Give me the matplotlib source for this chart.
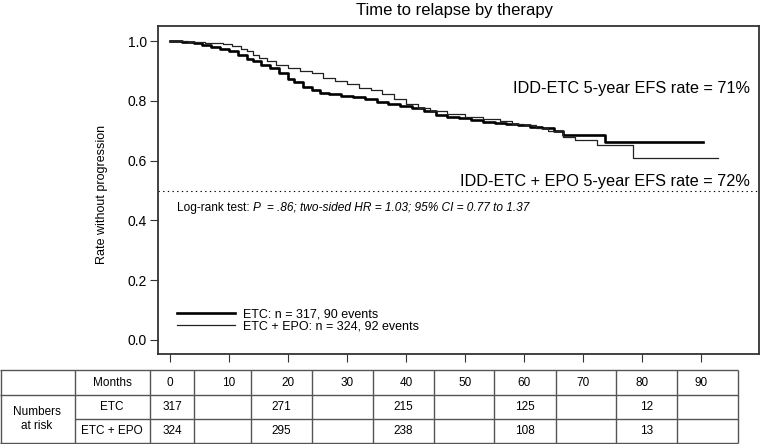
import numpy as np
import matplotlib.pyplot as plt
from matplotlib.transforms import blended_transform_factory

plt.rcParams['font.family'] = ['Liberation Sans', 'DejaVu Sans']

# Kaplan-Meier steps (months, proportion event-free)
etc_t = [0, 2, 4, 5.5, 7, 8.5, 10, 11.5, 13, 14, 15.5, 17, 18.5, 20, 21, 22.5,
         24, 25.5, 27, 29, 31, 33, 35, 37, 39, 41, 43, 45, 47, 49, 51, 53, 55,
         57, 59, 61, 63, 65, 66.6, 70, 73.7, 90.3]
etc_s = [1.0, 0.997, 0.993, 0.987, 0.982, 0.975, 0.966, 0.955, 0.942, 0.935,
         0.922, 0.911, 0.895, 0.875, 0.862, 0.848, 0.836, 0.828, 0.822, 0.816,
         0.812, 0.806, 0.798, 0.79, 0.782, 0.776, 0.768, 0.754, 0.748, 0.742,
         0.735, 0.729, 0.726, 0.722, 0.718, 0.713, 0.708, 0.70, 0.687, 0.685,
         0.664, 0.664]

epo_t = [0, 3, 6, 9, 10.5, 12, 13, 14, 15, 16.5, 18, 20, 22, 24, 26, 28, 30,
         32, 34, 36, 38, 40, 42, 44, 47, 50, 53, 56, 58, 60, 62, 64, 66.6,
         68.6, 72.3, 78.5, 92.9]
epo_s = [1.0, 0.997, 0.993, 0.99, 0.985, 0.975, 0.967, 0.955, 0.945, 0.935,
         0.922, 0.91, 0.90, 0.892, 0.878, 0.868, 0.857, 0.845, 0.838, 0.825,
         0.808, 0.79, 0.775, 0.765, 0.758, 0.748, 0.74, 0.732, 0.724, 0.718,
         0.71, 0.70, 0.68, 0.669, 0.653, 0.609, 0.609]

months = [0, 10, 20, 30, 40, 50, 60, 70, 80, 90]
risk_etc = ['317', '', '271', '', '215', '', '125', '', '12', '']
risk_epo = ['324', '', '295', '', '238', '', '108', '', '13', '']

W, H = 760, 444
fig = plt.figure(figsize=(W / 100, H / 100), dpi=100)
ax = fig.add_axes([158 / W, (H - 354) / H, (759 - 158) / W, (354 - 25.7) / H])

ax.step(etc_t, etc_s, where='post', color='black', lw=1.9,
        label='ETC: n = 317, 90 events')
ax.step(epo_t, epo_s, where='post', color='#222222', lw=0.9,
        label='ETC + EPO: n = 324, 92 events')
ax.axhline(0.5, color='black', lw=0.8, ls=(0, (1.2, 3)))

ax.set_xlim(-2.03, 99.8)
ax.set_ylim(-0.047, 1.052)
ax.set_xticks(months)
ax.set_xticklabels([])
ax.set_yticks([0, 0.2, 0.4, 0.6, 0.8, 1.0])
ax.set_yticklabels(['0.0', '0.2', '0.4', '0.6', '0.8', '1.0'])
ax.tick_params(axis='both', direction='out', length=6, width=0.8,
               color='#333333', labelsize=10, pad=2)
for s in ax.spines.values():
    s.set_color('#333333')
    s.set_linewidth(1.3)

ax.set_ylabel('Rate without progression', fontsize=9)
ax.yaxis.set_label_coords(-0.083, 0.485)

fig.text(455 / W, 1 - 11 / H, 'Time to relapse by therapy', ha='center',
         va='center', fontsize=12)

ax.text(0.985, 0.843, 'IDD-ETC 5-year EFS rate = 71%', ha='right',
        va='center', fontsize=11.7, transform=ax.get_yaxis_transform())
ax.text(0.985, 0.532, 'IDD-ETC + EPO 5-year EFS rate = 72%', ha='right',
        va='center', fontsize=11.7, transform=ax.get_yaxis_transform())

t1 = ax.text(1.2, 0.422, 'Log-rank test: ', fontsize=8.6, va='bottom')
ax.annotate('P  = .86; two-sided HR = 1.03; 95% CI = 0.77 to 1.37',
            xy=(1, 0), xycoords=t1, va='bottom', fontsize=8.6,
            fontstyle='italic')

ax.legend(loc='lower left', bbox_to_anchor=(0.032, 0.066), frameon=False,
          fontsize=9, handlelength=4.6, handletextpad=0.7, borderpad=0,
          borderaxespad=0, labelspacing=0.0)

# number-at-risk table, drawn on an overlay in pixel coordinates
ov = fig.add_axes([0, 0, 1, 1])
ov.set_xlim(0, W)
ov.set_ylim(H, 0)
ov.axis('off')
tr = blended_transform_factory(ax.transData, ov.transData)

col_edges = [0, 75, 150, 194, 251, 312, 373, 434, 494, 556, 616, 677, 738]
row_edges = [370, 395, 419, 443]
lc = '#555555'
ov.hlines([row_edges[0], row_edges[1], row_edges[3]], 0, col_edges[-1],
          color=lc, lw=1)
ov.hlines(row_edges[2], col_edges[1], col_edges[-1], color=lc, lw=1)
ov.vlines(col_edges[1:], row_edges[0], row_edges[-1], color=lc, lw=1)
ov.vlines(0.5, row_edges[0], row_edges[-1], color=lc, lw=1)

ymid = [(row_edges[i] + row_edges[i + 1]) / 2 for i in range(3)]
fs = 8.5
ov.text(112, ymid[0], 'Months', ha='center', va='center', fontsize=fs)
ov.text(112, ymid[1], 'ETC', ha='center', va='center', fontsize=fs)
ov.text(112, ymid[2], 'ETC + EPO', ha='center', va='center', fontsize=fs)
ov.text(37, row_edges[2], 'Numbers\nat risk', ha='center', va='center',
        fontsize=fs, linespacing=1.3)
for i, m in enumerate(months):
    ov.text(m, ymid[0], str(m), ha='center', va='center', fontsize=fs,
            transform=tr)
    cx = (col_edges[i + 2] + col_edges[i + 3]) / 2
    ov.text(cx, ymid[1], risk_etc[i], ha='center', va='center', fontsize=fs)
    ov.text(cx, ymid[2], risk_epo[i], ha='center', va='center', fontsize=fs)

fig.savefig('out.png', dpi=100)
